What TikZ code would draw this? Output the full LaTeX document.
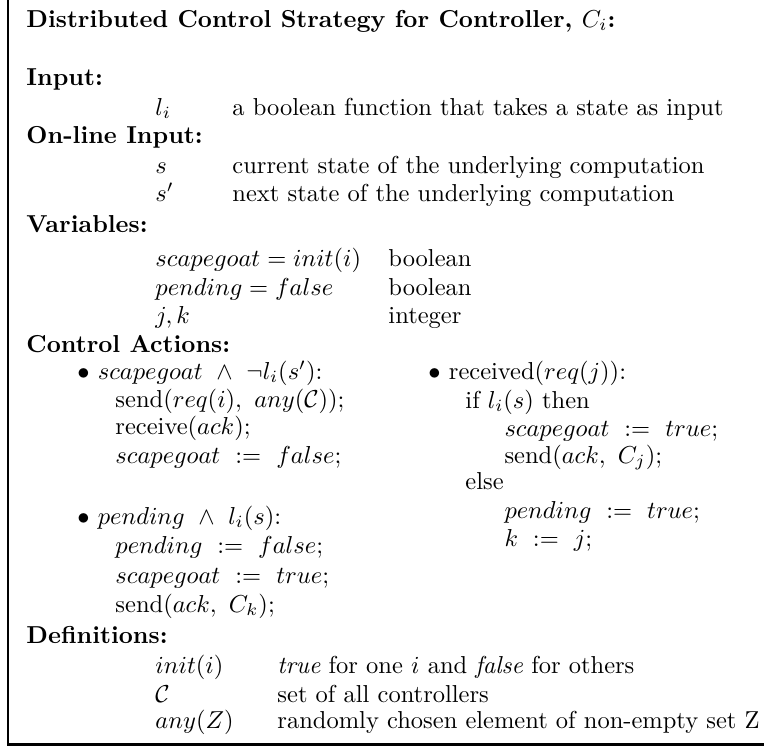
\documentclass[tikz,border=0pt]{standalone}
\usepackage{amsmath,amssymb}
\usepackage{tikz}

\begin{document}
\begin{tikzpicture}[x=0.4082pt,y=-0.4082pt,
            txt/.style={anchor=base west, inner sep=0pt},
            hd/.style={txt, font=\bfseries}]
	\useasboundingbox (0,0) rectangle (764,747);
	\draw[line width=0.9pt] (7.8,0) -- (7.8,744.5) -- (764,744.5);

	\node[hd] (title) at (26,27) {Distributed Control Strategy for Controller, $C_i$:};

	\node[hd] (input) at (26,85) {Input:};
	\node[txt] (li) at (155,115) {$l_i$};
	\node[txt] (lidesc) at (232,115) {a boolean function that takes a state as input};

	\node[hd] (online) at (26,143) {On-line Input:};
	\node[txt] (s) at (155,173) {$s$};
	\node[txt] (sdesc) at (232,173) {current state of the underlying computation};
	\node[txt] (snext) at (155,201) {$s'$};
	\node[txt] (snextdesc) at (232,201) {next state of the underlying computation};

	\node[hd] (vars) at (26,232) {Variables:};
	\node[txt] (vsg) at (155,266) {$scapegoat = init(i)$};
	\node[txt] (vsgtype) at (388,266) {boolean};
	\node[txt] (vpend) at (155,295) {$pending = false$};
	\node[txt] (vpendtype) at (388,295) {boolean};
	\node[txt] (vjk) at (155,323) {$j,k$};
	\node[txt] (vjktype) at (388,323) {integer};

	\node[hd] (actions) at (26,352) {Control Actions:};
	\node[txt] (bsg) at (77,379) {$\bullet$ $scapegoat\ \wedge\ \neg l_i(s')$:};
	\node[txt] (send1) at (115,407) {send($req(i),\ any(\mathcal{C})$);};
	\node[txt] (recv1) at (115,434) {receive($ack$);};
	\node[txt] (sgfalse) at (115,463) {$scapegoat\ \mathrel{:=}\ false$;};
	\node[txt] (bpend) at (77,524) {$\bullet$ $pending\ \wedge\ l_i(s)$:};
	\node[txt] (pfalse) at (115,553) {$pending\ \mathrel{:=}\ false$;};
	\node[txt] (sgtrue) at (115,583) {$scapegoat\ \mathrel{:=}\ true$;};
	\node[txt] (send2) at (115,612) {send($ack,\ C_k$);};

	\node[txt] (brecv) at (428,379) {$\bullet$ received($req(j)$):};
	\node[txt] (iflis) at (465,408) {if $l_i(s)$ then};
	\node[txt] (rsgtrue) at (504,436) {$scapegoat\ \mathrel{:=}\ true$;};
	\node[txt] (rsend) at (504,463) {send($ack,\ C_j$);};
	\node[txt] (relse) at (465,489) {else};
	\node[txt] (rptrue) at (504,518) {$pending\ \mathrel{:=}\ true$;};
	\node[txt] (rk) at (504,546) {$k\ \mathrel{:=}\ j$;};

	\node[hd] (defs) at (26,643) {Definitions:};
	\node[txt] (dinit) at (155,673) {$init(i)$};
	\node[txt] (dinitdesc) at (277,673) {\textit{true} for one $i$ and \textit{false} for others};
	\node[txt] (dc) at (155,702) {$\mathcal{C}$};
	\node[txt] (dcdesc) at (277,702) {set of all controllers};
	\node[txt] (dany) at (155,728) {$any(Z)$};
	\node[txt] (danydesc) at (277,728) {randomly chosen element of non-empty set Z};
\end{tikzpicture}
\end{document}
